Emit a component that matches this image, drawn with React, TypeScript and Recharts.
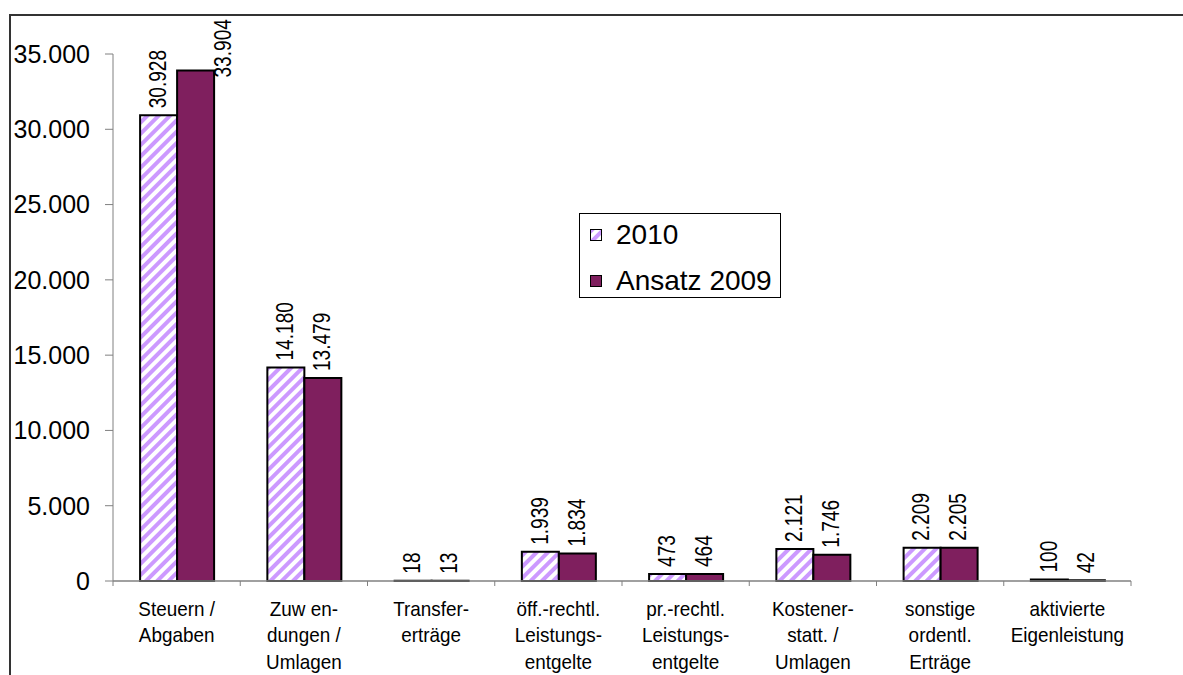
import React from 'react';
import { BarChart, Bar, XAxis, YAxis, LabelList, Legend } from 'recharts';

const categories = [
  'Steuern /\nAbgaben',
  'Zuw en-\ndungen /\nUmlagen',
  'Transfer-\nerträge',
  'öff.-rechtl.\nLeistungs-\nentgelte',
  'pr.-rechtl.\nLeistungs-\nentgelte',
  'Kostener-\nstatt. /\nUmlagen',
  'sonstige\nordentl.\nErträge',
  'aktivierte\nEigenleistung',
];
const series2010 = [30928, 14180, 18, 1939, 473, 2121, 2209, 100];
const seriesAnsatz2009 = [33904, 13479, 13, 1834, 464, 1746, 2205, 42];
const seriesNames = ['2010', 'Ansatz 2009'];
const yTicks = [0, 5000, 10000, 15000, 20000, 25000, 30000, 35000];

const data = categories.map((c, i) => ({
  category: c,
  v2010: series2010[i],
  v2009: seriesAnsatz2009[i],
}));

const FONT = '"Liberation Sans", Arial, sans-serif';
const W = 1183;
const H = 675;
const PLOT_LEFT = 113;
const PLOT_RIGHT = 1131;
const BAND = (PLOT_RIGHT - PLOT_LEFT) / categories.length;
const HATCH = '#cc99ff';
const PLUM = '#7f1f5e';
const AXIS = '#808080';
const LABEL_FS = 23;
const LABEL_SQ = 0.83;

const fmt = (n: number) => String(n).replace(/\B(?=(\d{3})+(?!\d))/g, '.');
const textLen = (s: string, fs: number) =>
  s.split('').reduce((a, ch) => a + (ch === '.' ? 0.278 : 0.556) * fs, 0);

const XTick = (props: any) => {
  const x = Number(props.x);
  const y = Number(props.y);
  const index = props.index;
  const lines = String(props.payload?.value ?? '').split('\n');
  const half = BAND / 2;
  return (
    <g>
      <line x1={x - half} y1={y} x2={x - half} y2={y + 5} stroke={AXIS} strokeWidth={1} />
      {index === categories.length - 1 && (
        <line x1={x + half} y1={y} x2={x + half} y2={y + 5} stroke={AXIS} strokeWidth={1} />
      )}
      <g transform={`translate(${x} ${y + 35}) scale(0.9 1)`}>
        <text x={0} y={0} textAnchor="middle" fontSize={21} fill="#000" fontFamily={FONT}>
          {lines.map((l, i) => (
            <tspan key={i} x={0} dy={i === 0 ? 0 : 26.5}>
              {l}
            </tspan>
          ))}
        </text>
      </g>
    </g>
  );
};

const renderLabel = (props: any) => {
  const vb = props.viewBox || {};
  const x = Number(props.x ?? vb.x);
  const y = Number(props.y ?? vb.y);
  const width = Number(props.width ?? vb.width);
  const text = fmt(Number(props.value));
  const len = textLen(text, LABEL_FS) * LABEL_SQ;
  let tx = x + width / 2 - 1;
  let ty = y - 7;
  if (ty - len < 18) {
    tx = x + width + 9;
    ty = y + 7;
  }
  return (
    <g transform={`translate(${tx} ${ty}) rotate(-90) scale(${LABEL_SQ} 1)`}>
      <text x={0} y={0} textAnchor="start" dominantBaseline="central" fontSize={LABEL_FS} fill="#000" fontFamily={FONT}>
        {text}
      </text>
    </g>
  );
};

const renderLegend = () => (
  <div
    style={{
      width: 202,
      height: 85,
      boxSizing: 'border-box',
      border: '1px solid #000',
      background: '#fff',
      position: 'relative',
      fontFamily: FONT,
      fontSize: 28,
      color: '#000',
    }}
  >
    {seriesNames.map((name, i) => (
      <div key={name} style={{ position: 'absolute', left: 0, top: 6 + i * 46, height: 30, width: 200 }}>
        <svg width={12} height={12} style={{ position: 'absolute', left: 10, top: 9 }}>
          <defs>
            <pattern id="legendHatch" patternUnits="userSpaceOnUse" width={8} height={8} patternTransform="rotate(45)">
              <rect width={8} height={8} fill="#fff" />
              <rect width={4} height={8} fill={HATCH} />
            </pattern>
          </defs>
          <rect x={0.5} y={0.5} width={11} height={11} fill={i === 0 ? 'url(#legendHatch)' : PLUM} stroke="#000" strokeWidth={1} />
        </svg>
        <span style={{ position: 'absolute', left: 36, top: 0, lineHeight: '30px', whiteSpace: 'nowrap' }}>{name}</span>
      </div>
    ))}
  </div>
);

export default function App() {
  return (
    <div style={{ position: 'fixed', left: 0, top: 0, width: W, height: H, overflow: 'hidden', background: '#fff' }}>
      <svg width={0} height={0} style={{ position: 'absolute' }}>
        <defs>
          <pattern id="hatch2010" patternUnits="userSpaceOnUse" width={8} height={8} patternTransform="rotate(45)">
            <rect width={8} height={8} fill="#fff" />
            <rect width={4} height={8} fill={HATCH} />
          </pattern>
        </defs>
      </svg>
      <div
        style={{
          position: 'absolute',
          left: 9,
          top: 14,
          width: W,
          height: H,
          borderTop: '2px solid #333',
          borderLeft: '2px solid #333',
        }}
      />
      <div style={{ position: 'absolute', left: 0, top: 0 }}>
        <BarChart
          width={W}
          height={H}
          data={data}
          margin={{ top: 54, right: W - PLOT_RIGHT, bottom: 4, left: 13 }}
          barCategoryGap="21.3%"
          barGap={0}
        >
          <XAxis
            dataKey="category"
            height={90}
            interval={0}
            tickLine={false}
            tickSize={0}
            tickMargin={0}
            axisLine={{ stroke: AXIS, strokeWidth: 1.5 }}
            tick={<XTick />}
          />
          <YAxis
            width={100}
            domain={[0, 35000]}
            ticks={yTicks}
            interval={0}
            tickFormatter={(v: number) => fmt(v)}
            tickSize={8}
            tickMargin={15}
            tickLine={{ stroke: AXIS }}
            axisLine={{ stroke: AXIS }}
            tick={{ fill: '#000', fontSize: 25, fontFamily: FONT }}
          />
          <Legend
            layout="horizontal"
            verticalAlign="middle"
            align="center"
            content={renderLegend}
            wrapperStyle={{ left: 579, top: 213, width: 202, height: 85 }}
          />
          <Bar dataKey="v2010" name={seriesNames[0]} fill="url(#hatch2010)" stroke="#000" strokeWidth={2} isAnimationActive={false}>
            <LabelList dataKey="v2010" content={renderLabel} />
          </Bar>
          <Bar dataKey="v2009" name={seriesNames[1]} fill={PLUM} stroke="#000" strokeWidth={2} isAnimationActive={false}>
            <LabelList dataKey="v2009" content={renderLabel} />
          </Bar>
        </BarChart>
      </div>
    </div>
  );
}
